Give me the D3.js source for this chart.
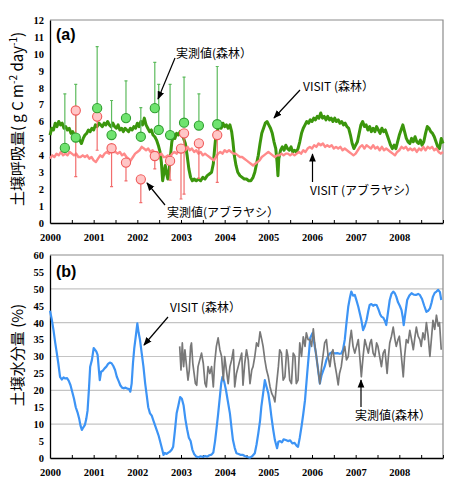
<!DOCTYPE html>
<html lang="ja">
<head>
<meta charset="UTF-8">
<title>土壌呼吸量と土壌水分量</title>
<script src="https://d3js.org/d3.v7.min.js"></script>
<style>
  body { margin: 0; background: #fff; }
  .tick text { font-family: "Liberation Serif", serif; font-weight: bold; font-size: 10.5px; fill: #000; }
  .note { font-family: "Noto Sans CJK JP", sans-serif; font-size: 12px; fill: #000; }
  .ytitle { font-family: "Noto Sans CJK JP", sans-serif; font-size: 15px; fill: #000; }
  .panel { font-family: "Liberation Sans", sans-serif; font-weight: bold; font-size: 16px; }
</style>
</head>
<body>
<div id="chart"></div>
<script>
// x axis labels (years)
const yearLabels = [2000, 2001, 2002, 2003, 2004, 2005, 2006, 2007, 2008];

// (a) observed soil respiration, forest: time, mean, upper error
const forestObsT  = [2000.34, 2000.59, 2001.08, 2001.41, 2001.74, 2002.08, 2002.40, 2002.49, 2002.75, 2003.07, 2003.41, 2003.83];
const forestObsV  = [4.44, 5.05, 6.79, 5.20, 6.20, 5.10, 6.79, 5.50, 5.20, 5.93, 5.76, 5.84];
const forestObsHi = [7.63, 8.20, 10.43, 7.24, 8.40, 6.82, 9.50, 8.20, 8.20, 8.62, 7.63, 9.25];

// (a) observed soil respiration, oil palm: time, mean, lower error
const palmObsT  = [2000.59, 2001.08, 2001.41, 2001.74, 2002.08, 2002.40, 2002.75, 2003.00, 2003.07, 2003.41, 2003.83];
const palmObsV  = [6.65, 6.29, 4.42, 3.57, 2.58, 3.96, 3.67, 4.40, 5.30, 4.71, 5.20];
const palmObsLo = [2.74, 4.30, 2.15, 2.49, 1.20, 3.20, 2.54, 1.42, 1.71, 2.64, 2.40];

// (a) VISIT forest soil respiration [year, g C m-2 day-1]
const visitForestResp = [
  [2000.00,5.2],[2000.04,5.6],[2000.08,5.5],[2000.12,5.9],[2000.16,5.7],[2000.20,6.0],[2000.24,5.8],[2000.28,5.9],
  [2000.32,5.6],[2000.36,5.7],[2000.40,5.5],[2000.44,5.6],[2000.48,5.3],[2000.52,5.4],[2000.56,5.2],[2000.60,5.1],
  [2000.64,5.0],[2000.68,4.9],[2000.72,4.7],[2000.76,5.0],[2000.80,5.2],[2000.84,5.3],[2000.88,5.5],[2000.92,5.4],
  [2000.96,5.6],[2001.00,5.5],[2001.04,5.8],[2001.08,5.7],[2001.12,5.9],[2001.16,5.8],[2001.20,5.7],[2001.24,5.9],
  [2001.28,5.8],[2001.32,6.0],[2001.36,5.8],[2001.40,5.7],[2001.44,5.9],[2001.48,5.7],[2001.52,5.6],[2001.56,5.8],
  [2001.60,5.5],[2001.64,5.6],[2001.68,5.4],[2001.72,5.6],[2001.76,5.5],[2001.80,5.4],[2001.84,5.6],[2001.88,5.5],
  [2001.92,5.7],[2001.96,5.6],[2002.00,5.9],[2002.04,5.7],[2002.08,6.0],[2002.12,5.8],[2002.16,6.2],[2002.20,5.8],
  [2002.24,5.6],[2002.28,5.4],[2002.32,5.5],[2002.36,5.2],[2002.40,5.1],[2002.44,4.9],[2002.48,4.6],[2002.52,4.2],
  [2002.55,3.6],[2002.58,2.5],[2002.61,3.0],[2002.64,3.4],[2002.67,2.9],[2002.70,2.6],[2002.73,3.2],[2002.76,4.0],
  [2002.79,4.8],[2002.82,5.1],[2002.86,5.0],[2002.90,5.3],[2002.94,5.2],[2002.98,5.4],[2003.02,5.3],[2003.06,5.0],
  [2003.10,4.7],[2003.14,4.0],[2003.18,3.2],[2003.22,2.7],[2003.26,2.5],[2003.30,2.6],[2003.35,2.5],[2003.40,2.6],
  [2003.45,2.5],[2003.50,2.7],[2003.55,2.6],[2003.60,2.8],[2003.65,2.9],[2003.70,3.0],[2003.74,3.5],[2003.77,4.4],
  [2003.80,5.2],[2003.84,5.5],[2003.88,5.8],[2003.92,5.6],[2003.96,5.9],[2004.00,5.7],[2004.04,5.8],[2004.08,5.6],
  [2004.12,5.8],[2004.16,5.4],[2004.19,4.8],[2004.22,4.0],[2004.26,3.4],[2004.30,3.0],[2004.35,2.8],[2004.40,2.7],
  [2004.45,2.6],[2004.50,2.6],[2004.55,2.5],[2004.60,2.5],[2004.65,2.7],[2004.69,3.0],[2004.73,3.5],[2004.77,4.0],
  [2004.81,4.7],[2004.85,5.3],[2004.89,5.6],[2004.93,5.9],[2004.97,6.0],[2005.01,5.8],[2005.05,5.6],[2005.09,5.3],
  [2005.13,4.8],[2005.17,4.4],[2005.20,3.6],[2005.22,2.8],[2005.24,3.8],[2005.28,4.3],[2005.32,4.5],[2005.36,4.3],
  [2005.40,4.6],[2005.44,4.4],[2005.48,4.3],[2005.52,4.5],[2005.56,4.2],[2005.60,4.3],[2005.64,4.2],[2005.68,4.4],
  [2005.72,4.8],[2005.76,5.3],[2005.80,5.6],[2005.84,5.8],[2005.88,6.0],[2005.92,5.9],[2005.96,6.1],[2006.00,6.0],
  [2006.04,6.2],[2006.08,6.1],[2006.12,6.3],[2006.16,6.2],[2006.20,6.5],[2006.24,6.2],[2006.28,6.3],[2006.32,6.1],
  [2006.36,6.3],[2006.40,6.1],[2006.44,6.2],[2006.48,6.0],[2006.52,6.2],[2006.56,6.0],[2006.60,6.1],[2006.64,5.9],
  [2006.68,6.0],[2006.72,5.8],[2006.76,5.9],[2006.80,5.7],[2006.84,5.6],[2006.88,5.2],[2006.92,4.7],[2006.96,4.4],
  [2007.00,4.6],[2007.04,4.8],[2007.08,5.3],[2007.12,5.8],[2007.16,6.0],[2007.20,5.7],[2007.24,5.8],[2007.28,5.5],
  [2007.32,5.7],[2007.36,5.4],[2007.40,5.6],[2007.44,5.4],[2007.48,5.7],[2007.52,5.5],[2007.56,5.3],[2007.60,5.6],
  [2007.64,5.4],[2007.68,5.5],[2007.72,5.2],[2007.76,4.9],[2007.80,4.6],[2007.84,4.4],[2007.88,4.6],[2007.92,4.4],
  [2007.96,4.8],[2008.00,5.2],[2008.04,5.5],[2008.08,5.8],[2008.12,5.4],[2008.16,5.0],[2008.20,4.8],[2008.24,4.7],
  [2008.28,5.0],[2008.32,4.8],[2008.36,5.1],[2008.40,4.8],[2008.44,4.7],[2008.48,4.9],[2008.52,4.6],[2008.56,4.8],
  [2008.60,5.3],[2008.64,5.7],[2008.68,5.6],[2008.72,5.4],[2008.76,5.3],[2008.80,5.1],[2008.84,4.8],[2008.88,4.5],
  [2008.92,4.4],[2008.96,5.0],[2009.00,4.7]
];

// (a) VISIT oil palm soil respiration
const visitPalmResp = [
  [2000.00,3.8],[2000.05,4.0],[2000.10,3.9],[2000.15,4.1],[2000.20,4.0],[2000.25,4.2],[2000.30,4.0],[2000.35,4.1],
  [2000.40,4.0],[2000.45,4.2],[2000.50,4.1],[2000.55,4.0],[2000.60,4.1],[2000.65,3.9],[2000.70,3.9],[2000.75,4.0],
  [2000.80,3.9],[2000.85,4.0],[2000.90,3.8],[2000.95,3.9],[2001.00,3.7],[2001.05,3.6],[2001.10,3.8],[2001.15,4.0],
  [2001.20,3.9],[2001.25,4.1],[2001.30,4.2],[2001.35,4.1],[2001.40,4.3],[2001.45,4.2],[2001.50,4.2],[2001.55,4.1],
  [2001.60,4.2],[2001.65,4.0],[2001.70,4.1],[2001.75,3.9],[2001.80,3.8],[2001.85,3.7],[2001.90,3.9],[2001.95,4.1],
  [2002.00,4.2],[2002.05,4.3],[2002.10,4.5],[2002.15,4.4],[2002.20,4.3],[2002.25,4.4],[2002.30,4.2],[2002.35,4.3],
  [2002.40,4.1],[2002.45,4.2],[2002.50,4.0],[2002.55,4.1],[2002.60,3.9],[2002.65,3.9],[2002.70,4.0],[2002.75,3.9],
  [2002.80,4.1],[2002.85,4.2],[2002.90,4.1],[2002.95,4.3],[2003.00,4.2],[2003.05,4.4],[2003.10,4.3],[2003.15,4.5],
  [2003.20,4.3],[2003.25,4.4],[2003.30,4.2],[2003.35,4.3],[2003.40,4.1],[2003.45,4.2],[2003.50,4.0],[2003.55,4.1],
  [2003.60,4.0],[2003.65,3.9],[2003.70,3.8],[2003.75,3.7],[2003.80,3.9],[2003.85,4.1],[2003.90,4.2],[2003.95,4.1],
  [2004.00,4.3],[2004.05,4.2],[2004.10,4.3],[2004.15,4.2],[2004.20,4.1],[2004.25,4.1],[2004.30,4.0],[2004.35,3.9],
  [2004.40,3.9],[2004.45,3.8],[2004.50,3.7],[2004.55,3.6],[2004.60,3.5],[2004.65,3.4],[2004.70,3.5],[2004.75,3.6],
  [2004.80,3.7],[2004.85,3.9],[2004.90,4.0],[2004.95,4.1],[2005.00,4.2],[2005.05,4.1],[2005.10,4.0],[2005.15,3.9],
  [2005.20,4.0],[2005.25,4.0],[2005.30,4.1],[2005.35,4.0],[2005.40,4.1],[2005.45,4.1],[2005.50,4.0],[2005.55,4.1],
  [2005.60,4.0],[2005.65,4.1],[2005.70,4.2],[2005.75,4.1],[2005.80,4.3],[2005.85,4.2],[2005.90,4.4],[2005.95,4.5],
  [2006.00,4.4],[2006.05,4.6],[2006.10,4.5],[2006.15,4.7],[2006.20,4.6],[2006.25,4.7],[2006.30,4.5],[2006.35,4.6],
  [2006.40,4.5],[2006.45,4.6],[2006.50,4.4],[2006.55,4.5],[2006.60,4.4],[2006.65,4.5],[2006.70,4.3],[2006.75,4.4],
  [2006.80,4.3],[2006.85,4.2],[2006.90,4.1],[2006.95,4.0],[2007.00,4.1],[2007.05,4.3],[2007.10,4.5],[2007.15,4.6],
  [2007.20,4.4],[2007.25,4.6],[2007.30,4.5],[2007.35,4.4],[2007.40,4.6],[2007.45,4.4],[2007.50,4.5],[2007.55,4.3],
  [2007.60,4.5],[2007.65,4.3],[2007.70,4.4],[2007.75,4.3],[2007.80,4.2],[2007.85,4.1],[2007.90,4.0],[2007.95,4.2],
  [2008.00,4.3],[2008.05,4.5],[2008.10,4.4],[2008.15,4.5],[2008.20,4.3],[2008.25,4.4],[2008.30,4.3],[2008.35,4.4],
  [2008.40,4.2],[2008.45,4.4],[2008.50,4.3],[2008.55,4.5],[2008.60,4.3],[2008.65,4.5],[2008.70,4.4],[2008.75,4.5],
  [2008.80,4.3],[2008.85,4.4],[2008.90,4.2],[2008.95,4.1],[2009.00,4.2]
];

// (b) VISIT forest soil moisture [year, %]
const visitForestMoist = [
  [2000.00,43.5],[2000.04,41],[2000.08,37.8],[2000.12,34],[2000.15,31.5],[2000.19,28],[2000.23,24],[2000.27,23.2],
  [2000.31,23.8],[2000.35,23.5],[2000.39,23.6],[2000.43,22.8],[2000.47,21.5],[2000.51,19.5],[2000.55,17.5],[2000.59,15],
  [2000.63,13.5],[2000.67,11.5],[2000.70,9.5],[2000.73,8.3],[2000.76,9],[2000.80,9.8],[2000.83,11.5],[2000.86,14],
  [2000.89,20],[2000.92,27],[2000.96,29],[2001.00,32.5],[2001.03,32],[2001.06,31.5],[2001.09,30.5],[2001.12,26],
  [2001.14,23],[2001.17,25.5],[2001.21,25.8],[2001.25,26.5],[2001.29,27],[2001.33,27.8],[2001.37,28.2],[2001.41,28],
  [2001.45,27.2],[2001.49,26],[2001.53,24],[2001.57,22.8],[2001.61,21.5],[2001.65,20.8],[2001.69,20.6],[2001.73,20.8],
  [2001.77,20.5],[2001.81,20.4],[2001.84,19.6],[2001.87,22],[2001.90,28],[2001.93,32.5],[2001.96,35.5],[2002.00,39.8],
  [2002.03,37],[2002.06,35],[2002.10,31],[2002.14,27],[2002.18,22],[2002.21,19],[2002.25,15],[2002.29,13.2],
  [2002.33,12.5],[2002.37,11],[2002.41,9.5],[2002.45,8],[2002.49,6.5],[2002.53,4.5],[2002.57,2.5],[2002.60,0.9],
  [2002.63,1.5],[2002.67,1.2],[2002.71,1.6],[2002.75,1.9],[2002.79,2.5],[2002.82,3.3],[2002.86,8],[2002.90,13.2],
  [2002.94,15.5],[2002.98,18],[2003.02,17.5],[2003.06,15.5],[2003.10,11.5],[2003.14,8.5],[2003.18,6],[2003.22,5],
  [2003.26,2.5],[2003.30,1.2],[2003.35,0.4],[2003.40,0.2],[2003.45,0.5],[2003.50,0.3],[2003.55,0.6],[2003.60,0.4],
  [2003.65,0.8],[2003.70,1.0],[2003.74,1.6],[2003.78,5],[2003.81,8.3],[2003.85,13],[2003.89,18.1],[2003.92,22],
  [2003.95,24],[2003.99,22.5],[2004.03,20.1],[2004.07,17],[2004.12,13.2],[2004.16,8.5],[2004.19,5.3],[2004.23,3],
  [2004.27,1.4],[2004.32,1.2],[2004.37,0.9],[2004.42,0.9],[2004.47,0.5],[2004.52,0.3],[2004.58,0.1],[2004.63,0.5],
  [2004.69,1.4],[2004.73,4],[2004.77,7.3],[2004.81,11],[2004.84,15.2],[2004.88,19],[2004.92,23],[2004.96,21],
  [2005.00,19.1],[2005.04,15.5],[2005.07,12.2],[2005.11,8.5],[2005.15,5.3],[2005.20,2.9],[2005.23,4.8],[2005.27,5],
  [2005.31,4.6],[2005.35,5.5],[2005.40,5.3],[2005.45,5],[2005.50,5.2],[2005.55,4.3],[2005.60,4.5],[2005.65,3.6],
  [2005.68,3.3],[2005.72,6],[2005.76,9.3],[2005.80,13],[2005.84,17.1],[2005.89,25],[2005.93,31],[2005.96,35.5],
  [2006.01,36.9],[2006.05,34],[2006.09,30.9],[2006.13,27],[2006.18,22],[2006.22,24.5],[2006.26,26],[2006.29,27],
  [2006.33,29],[2006.37,30.2],[2006.41,30.9],[2006.46,31.3],[2006.52,30.9],[2006.58,31],[2006.63,30.8],[2006.67,30.9],
  [2006.71,32],[2006.75,34.9],[2006.79,40],[2006.83,44.7],[2006.87,47.5],[2006.90,49.2],[2006.94,48],[2006.98,48.2],
  [2007.02,46.5],[2007.06,44.7],[2007.10,42.5],[2007.13,40.8],[2007.17,37.8],[2007.21,39],[2007.25,40.8],[2007.29,43.5],
  [2007.32,45.2],[2007.36,45.5],[2007.40,45],[2007.44,45.3],[2007.48,45.2],[2007.52,44],[2007.56,42.5],[2007.59,41.8],
  [2007.63,41.5],[2007.67,40.5],[2007.70,39.3],[2007.74,43],[2007.78,46.7],[2007.82,48.5],[2007.86,49.2],[2007.90,48.6],
  [2007.93,47.7],[2007.97,46],[2008.01,45],[2008.05,43.7],[2008.08,41.5],[2008.10,39.3],[2008.14,43],[2008.18,46.7],
  [2008.23,48],[2008.28,48.7],[2008.33,48.3],[2008.38,48.2],[2008.43,48.5],[2008.47,48.2],[2008.52,47],[2008.57,45],
  [2008.62,43.2],[2008.66,43.5],[2008.70,44.2],[2008.74,46],[2008.77,47.7],[2008.81,48.8],[2008.85,49.2],[2008.89,49.7],
  [2008.93,49],[2008.96,46.7]
];

// (b) observed forest soil moisture
const obsForestMoist = [
  [2002.97,33],[2003.00,26],[2003.03,34],[2003.06,27],[2003.09,32],[2003.12,28],[2003.16,23],[2003.19,26],
  [2003.22,33],[2003.24,34],[2003.27,28],[2003.30,25],[2003.33,22],[2003.36,21.5],[2003.39,27],[2003.43,29],
  [2003.47,31],[2003.51,28],[2003.55,22],[2003.58,21],[2003.62,27],[2003.66,25],[2003.70,27],[2003.74,21],
  [2003.77,28],[2003.81,33],[2003.85,35.5],[2003.89,32],[2003.93,30],[2003.97,23],[2004.00,30],[2004.04,26],
  [2004.08,22],[2004.12,27],[2004.16,29],[2004.20,32],[2004.23,21],[2004.27,25],[2004.31,27],[2004.35,29],
  [2004.39,31],[2004.42,21.5],[2004.46,28],[2004.50,32],[2004.54,29],[2004.58,22],[2004.62,26],[2004.65,27],
  [2004.69,30],[2004.73,34],[2004.77,33],[2004.81,37.3],[2004.85,35],[2004.88,33],[2004.92,29],[2004.96,26],
  [2005.00,24],[2005.04,21],[2005.08,19],[2005.12,18],[2005.15,16.6],[2005.19,22],[2005.23,27],[2005.26,32],
  [2005.30,31],[2005.34,23],[2005.38,24],[2005.42,32],[2005.45,30],[2005.49,23],[2005.53,22],[2005.57,31],
  [2005.61,30],[2005.64,22],[2005.68,23],[2005.72,34],[2005.76,30],[2005.80,35.8],[2005.84,33],[2005.87,37],
  [2005.91,35],[2005.95,35],[2005.99,33],[2006.03,38.2],[2006.06,34],[2006.10,30],[2006.14,26],[2006.18,22],
  [2006.22,27],[2006.25,30],[2006.29,34],[2006.33,35],[2006.37,30],[2006.41,27],[2006.45,31],[2006.48,32],
  [2006.52,28],[2006.56,25],[2006.60,21.6],[2006.63,25],[2006.67,27],[2006.71,31],[2006.75,33],[2006.79,29],
  [2006.83,30],[2006.87,35],[2006.90,37.7],[2006.94,33],[2006.98,31],[2007.02,33],[2007.06,35],[2007.10,29],
  [2007.13,24],[2007.17,30],[2007.21,35],[2007.25,33],[2007.29,31],[2007.33,34],[2007.36,35],[2007.40,31],
  [2007.44,30],[2007.48,34],[2007.51,33],[2007.55,30],[2007.59,27],[2007.63,31],[2007.67,32],[2007.72,25],
  [2007.75,30],[2007.78,34],[2007.82,36],[2007.86,38.7],[2007.90,35],[2007.93,33],[2007.97,35],[2008.00,36],
  [2008.04,31],[2008.09,24],[2008.12,30],[2008.16,35],[2008.20,34],[2008.24,37.7],[2008.28,35],[2008.32,32],
  [2008.36,36],[2008.39,38.7],[2008.43,36],[2008.47,35],[2008.50,33],[2008.54,37],[2008.58,35],[2008.62,40],
  [2008.66,36],[2008.70,30],[2008.74,36],[2008.77,40.7],[2008.81,38],[2008.85,42.2],[2008.89,39],[2008.92,40],
  [2008.96,32]
];

const W = 460, H = 488;
const left = 50, right = 443;
const svg = d3.select("#chart").append("svg").attr("width", W).attr("height", H);

svg.append("defs").append("marker")
  .attr("id", "arr").attr("viewBox", "0 0 10 10").attr("refX", 9).attr("refY", 5)
  .attr("markerWidth", 7).attr("markerHeight", 7).attr("orient", "auto-start-reverse")
  .append("path").attr("d", "M0,1 L10,5 L0,9 Z").attr("fill", "#000");

const x = d3.scaleLinear().domain([2000, 2009]).range([left, right]);
const halfYears = d3.range(2000, 2009.01, 0.5);

function frame(g, y, top, bottom) {
  // gray top/right border
  g.append("path")
    .attr("d", `M${left},${top}H${right}V${bottom}`)
    .attr("fill", "none").attr("stroke", "#8c8c8c").attr("stroke-width", 1.2);
  const xa = g.append("g").attr("transform", `translate(0,${bottom})`)
    .call(d3.axisBottom(x).tickValues(halfYears).tickSizeInner(-3).tickSizeOuter(0).tickPadding(11)
      .tickFormat(d => yearLabels.includes(d) ? d : ""));
  xa.select(".domain").attr("stroke", "#000").attr("stroke-width", 1.3);
  const ya = g.append("g").attr("transform", `translate(${left},0)`)
    .call(d3.axisLeft(y).tickSize(0).tickPadding(6));
  ya.select(".domain").attr("stroke", "#000").attr("stroke-width", 1.3);
}

function note(g, tx, ty, text, x1, y1, x2, y2) {
  g.append("text").attr("class", "note").attr("x", tx).attr("y", ty).text(text);
  g.append("line").attr("x1", x1).attr("y1", y1).attr("x2", x2).attr("y2", y2)
    .attr("stroke", "#000").attr("stroke-width", 1.2).attr("marker-end", "url(#arr)");
}

// ---------- panel (a) ----------
const ya = d3.scaleLinear().domain([0, 12]).range([223, 20]);
const gA = svg.append("g");
frame(gA, ya, 20, 223);

const lineA = d3.line().x(d => x(d[0])).y(d => ya(d[1]));
gA.append("path").datum(visitForestResp).attr("d", lineA)
  .attr("fill", "none").attr("stroke", "#3b960c").attr("stroke-width", 3).attr("stroke-linejoin", "round");
gA.append("path").datum(visitPalmResp).attr("d", lineA)
  .attr("fill", "none").attr("stroke", "#ff8a8a").attr("stroke-width", 2.4).attr("stroke-linejoin", "round");

// error bars and observation circles
const fIdx = d3.range(forestObsT.length);
const pIdx = d3.range(palmObsT.length);
gA.selectAll(".ebf").data(fIdx).join("path")
  .attr("d", i => `M${x(forestObsT[i])},${ya(forestObsV[i])}V${ya(forestObsHi[i])}m-1.5,0h3`)
  .attr("stroke", "#5dbb5d").attr("stroke-width", 1.2).attr("fill", "none");
gA.selectAll(".ebp").data(pIdx).join("path")
  .attr("d", i => `M${x(palmObsT[i])},${ya(palmObsV[i])}V${ya(palmObsLo[i])}m-1.5,0h3`)
  .attr("stroke", "#f26d6d").attr("stroke-width", 1.2).attr("fill", "none");
gA.selectAll(".cp").data(pIdx).join("circle")
  .attr("cx", i => x(palmObsT[i])).attr("cy", i => ya(palmObsV[i])).attr("r", 4.6)
  .attr("fill", "#ffc6c6").attr("stroke", "#f05a5a").attr("stroke-width", 1.1);
gA.selectAll(".cf").data(fIdx).join("circle")
  .attr("cx", i => x(forestObsT[i])).attr("cy", i => ya(forestObsV[i])).attr("r", 4.6)
  .attr("fill", "#6fe36f").attr("stroke", "#2f9e2f").attr("stroke-width", 1.1);

gA.append("text").attr("class", "panel").attr("x", 56).attr("y", 40).text("(a)");
note(gA, 176, 58, "実測値(森林）", 175, 58, 158, 99);
note(gA, 167, 217, "実測値(アブラヤシ）", 165, 205, 147, 183);
note(gA, 303, 91, "VISIT (森林）", 300, 90, 274, 118);
note(gA, 310, 195, "VISIT (アブラヤシ）", 312.5, 182, 312.5, 154);

// y title (a)
const tA = svg.append("text").attr("class", "ytitle")
  .attr("transform", "translate(23,119) rotate(-90)").attr("text-anchor", "middle");
tA.append("tspan").text("土壌呼吸量( g C m");
tA.append("tspan").attr("dy", -6).attr("font-size", 10).text("-2");
tA.append("tspan").attr("dy", 6).text(" day");
tA.append("tspan").attr("dy", -6).attr("font-size", 10).text("-1");
tA.append("tspan").attr("dy", 6).text(")");

// ---------- panel (b) ----------
const yb = d3.scaleLinear().domain([0, 60]).range([458, 255]);
const gB = svg.append("g");
gB.selectAll(".grid").data([10, 20, 30, 40, 50]).join("line")
  .attr("x1", left).attr("x2", right).attr("y1", d => yb(d)).attr("y2", d => yb(d))
  .attr("stroke", "#c4c4c4").attr("stroke-width", 1.2);
frame(gB, yb, 255, 458);

const lineB = d3.line().x(d => x(d[0])).y(d => yb(d[1]));
gB.append("path").datum(visitForestMoist).attr("d", lineB)
  .attr("fill", "none").attr("stroke", "#3d94f5").attr("stroke-width", 2.2).attr("stroke-linejoin", "round");
gB.append("path").datum(obsForestMoist).attr("d", lineB)
  .attr("fill", "none").attr("stroke", "#787878").attr("stroke-width", 1.7).attr("stroke-linejoin", "round");

gB.append("text").attr("class", "panel").attr("x", 56).attr("y", 277).text("(b)");
note(gB, 170, 312, "VISIT (森林）", 168, 317, 144, 345);
note(gB, 355, 420, "実測値(森林）", 361, 407, 361, 380);

svg.append("text").attr("class", "ytitle")
  .attr("transform", "translate(23,355) rotate(-90)").attr("text-anchor", "middle")
  .text("土壌水分量 (%)");
</script>
</body>
</html>
